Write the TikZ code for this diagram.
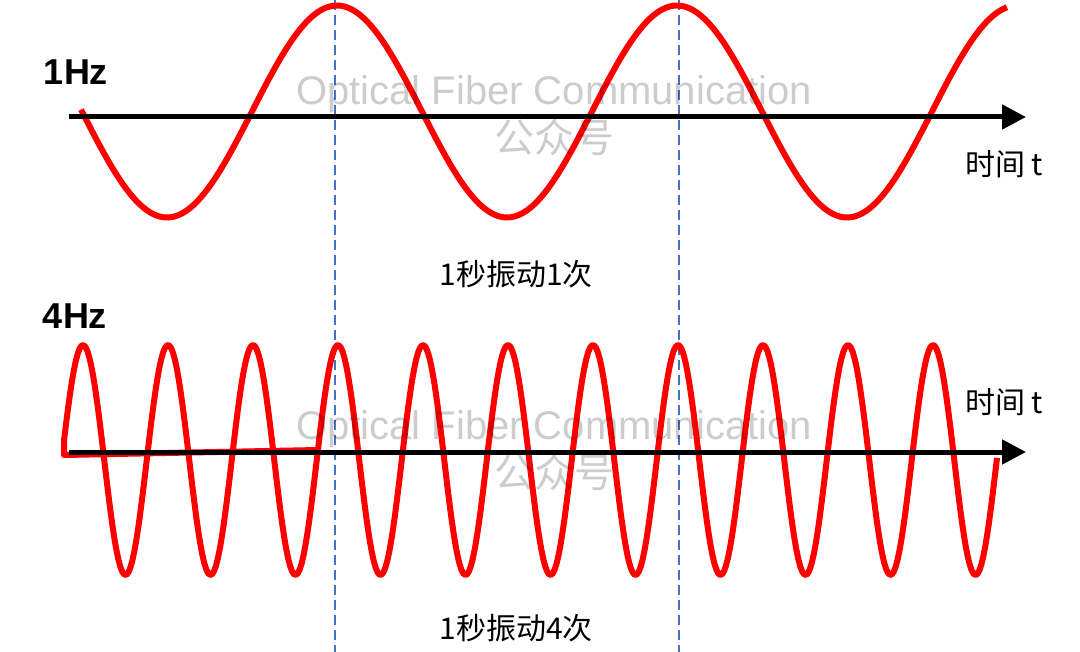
\documentclass[tikz,border=0pt]{standalone}
\usepackage{fontspec}
\setmainfont{Liberation Sans}
\newfontfamily\cjk{Noto Sans CJK SC}
\usetikzlibrary{positioning, arrows.meta}
\definecolor{wavered}{RGB}{255,0,0}
\definecolor{markblue}{RGB}{68,114,196}
\newcommand{\px}{0.5pt}

\begin{document}
\begin{tikzpicture}[
      x = \px, y = -\px,
      axis/.style = {line width = 2.5pt, -{Triangle[length = 12pt, width = 12pt]}},
      wave/.style = {color = wavered, line width = 3pt, line join = round},
      marker/.style = {color = markblue, line width = 1pt, dash pattern = on 5pt off 2.5pt},
      title/.style = {font = \bfseries\fontsize{18}{21}\selectfont},
      caption/.style = {font = \cjk\fontsize{15}{18}\selectfont},
      wmark/.style = {text = black, text opacity = 0.2, font = \fontsize{20}{24}\selectfont}]

      \useasboundingbox (0,0) rectangle (1080,652);

      % dashed markers, one second apart
      \foreach \xpos/\name in {335/left, 679/right} {
        \coordinate (\name top) at (\xpos,0);
        \coordinate (\name bot) at (\xpos,652);
        \draw[marker] (\name top) -- (\name bot);
      }

      % 1Hz
      \coordinate (ax1 start) at (69,117);
      \coordinate (ax1 end) at (1026,117);
      \draw[wave] plot[domain = 81:1007, samples = 240]
        (\x, {111.5 - 106*cos((\x - 337)/340*360)});
      \draw[axis] (ax1 start) -- (ax1 end);

      % 4Hz
      \coordinate (ax4 start) at (69,452);
      \coordinate (ax4 end) at (1026,452);
      \draw[wave] (318,450) -- (64,455) -- (64,441) --
        plot[domain = 64:997, samples = 480]
        (\x, {460 - 115*cos((\x - 83)/85*360)});
      \draw[axis] (ax4 start) -- (ax4 end);

      \node[title] (hz1) at (76,72) {1Hz};
      \node[title] (hz4) at (75,316) {4Hz};
      \node[caption] (time1) at (1004,164) {时间 t};
      \node[caption] (time4) at (1004,402) {时间 t};
      \node[caption] (count1) at (516,274) {1秒振动1次};
      \node[caption] (count4) at (516,628) {1秒振动4次};

      \node[wmark] (wm1) at (554,94) {Optical Fiber Communication};
      \node[wmark, font = \cjk\fontsize{20}{24}\selectfont] (wm1cn) at (554,137) {公众号};
      \node[wmark] (wm4) at (554,429) {Optical Fiber Communication};
      \node[wmark, font = \cjk\fontsize{20}{24}\selectfont] (wm4cn) at (554,472) {公众号};
  \end{tikzpicture}
\end{document}
